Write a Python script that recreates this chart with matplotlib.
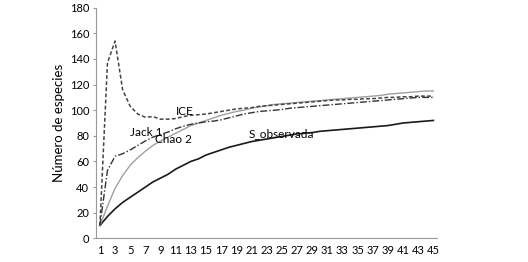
import matplotlib
matplotlib.use("Agg")
import matplotlib.pyplot as plt

muestras = list(range(1, 46))

s_observada = [10, 17, 23, 28, 32, 36, 40, 44, 47, 50, 54, 57, 60, 62, 65, 67, 69, 71, 72.5, 74,
               75.5, 76.5, 77.5, 78.5, 79.5, 80.5, 81.5, 82, 82.5, 83.5, 84, 84.5, 85, 85.5, 86,
               86.5, 87, 87.5, 88, 89, 90, 90.5, 91, 91.5, 92]

chao2 = [10, 25, 39, 49, 57, 63, 68, 72.5, 76, 79, 82, 85, 88, 90, 92, 94, 96, 97.5, 99, 100,
         101.5, 102.5, 103.5, 104.5, 105, 105.5, 106, 106.5, 107, 107.5, 108, 108.5, 109, 109.5,
         110, 110.5, 111, 111.5, 112.5, 113, 113.5, 114, 114.5, 115, 115]

ice = [10, 137, 154, 116, 103, 97, 94.5, 95, 93, 93, 93.5, 95, 96, 96.5, 97, 98, 99, 100, 101,
       101.5, 102, 103, 103.5, 104, 104.5, 105, 105.5, 106, 106.5, 107, 107.5, 108, 108, 108.5,
       108.5, 109, 109, 109.5, 110, 110, 110.5, 110.5, 111, 111, 111]

jack1 = [10, 53, 64, 66, 69, 72.5, 76, 79, 81, 83, 85.5, 87.5, 89, 90, 91, 91.5, 92.5, 94, 95.5,
         97, 98, 99, 99.5, 100, 100.5, 101.5, 102, 102.5, 103, 103.5, 104, 104.5, 105, 105.5,
         106, 106.5, 107, 107.5, 108, 108.5, 109, 109.5, 110, 110, 110]

plt.rcParams['font.family'] = ['Lato', 'DejaVu Sans']

fig = plt.figure(figsize=(5.28, 2.62), dpi=100)
ax = fig.add_axes([0.182, 0.0905, 0.646, 0.880])

ax.plot(muestras, s_observada, color='#1a1a1a', linewidth=1.2)
ax.plot(muestras, chao2, color='#a0a0a0', linewidth=1.0)
ax.plot(muestras, ice, color='#444444', linewidth=1.1, linestyle=(0, (2.5, 1.5)))
ax.plot(muestras, jack1, color='#333333', linewidth=1.0, linestyle=(0, (5, 1.5, 1, 1.5)))

ax.text(12.25, 99, "ICE", fontsize=8.5, ha='center', va='center')
ax.text(7.1, 82.5, "Jack 1", fontsize=8.5, ha='center', va='center')
ax.text(10.7, 77, "Chao 2", fontsize=8.5, ha='center', va='center')
ax.text(24.9, 82, "S_observada", fontsize=8.5, ha='center', va='center')

ax.set_xlim(0.5, 45.5)
ax.set_ylim(0, 180)
ax.set_xticks(muestras[::2])
ax.set_yticks(range(0, 181, 20))
ax.tick_params(axis='x', length=0, labelsize=8, pad=5)
ax.tick_params(axis='y', length=2, labelsize=8, color='#999999', pad=3)
ax.set_ylabel("Número de especies", fontsize=9.5)
ax.yaxis.set_label_coords(-0.09, 0.5)

for s in ['top', 'right']:
    ax.spines[s].set_visible(False)
for s in ['left', 'bottom']:
    ax.spines[s].set_color('#999999')
    ax.spines[s].set_linewidth(0.8)

fig.savefig("out.png", dpi=100)
